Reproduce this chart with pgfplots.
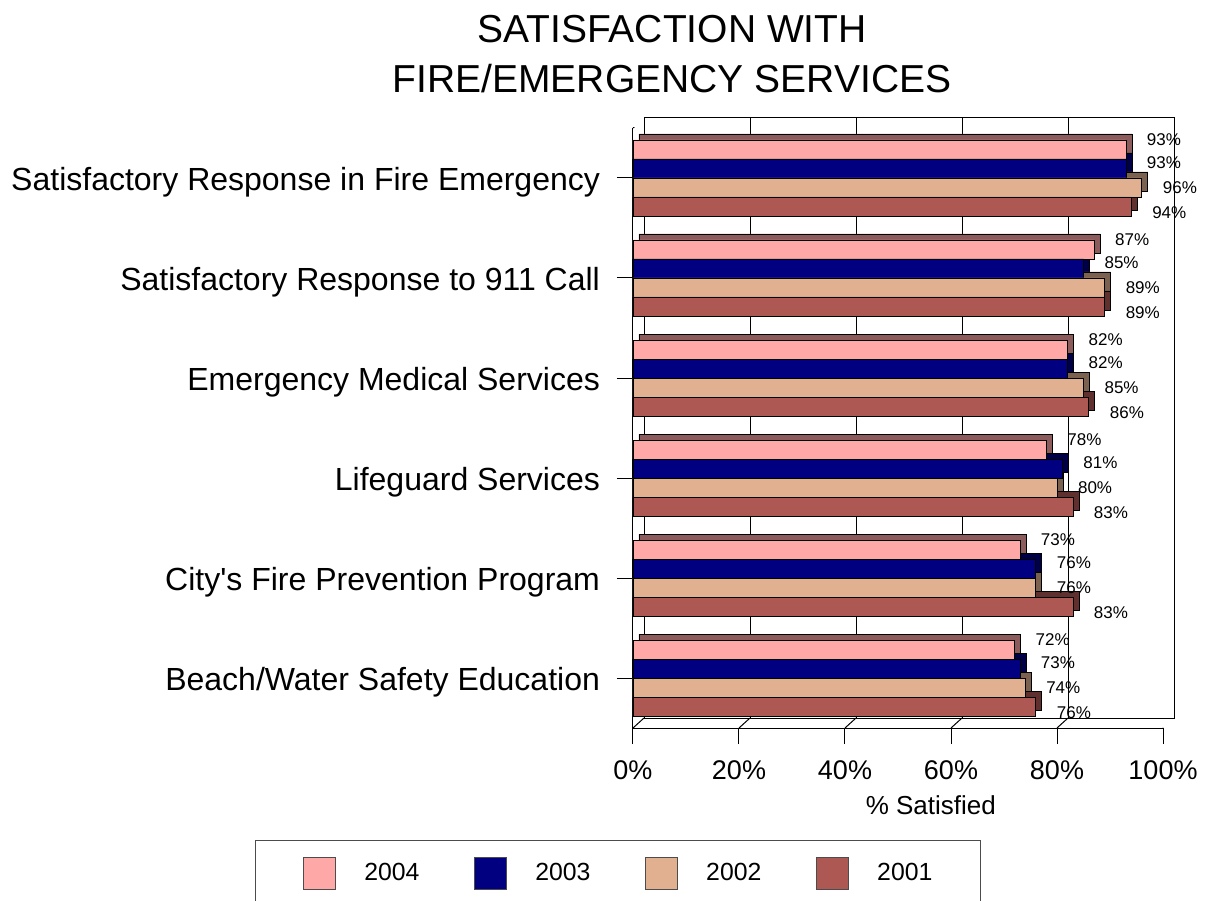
\documentclass[border=0pt]{standalone}
\usepackage{pgfplots}
\pgfplotsset{compat=1.18}
\usepackage{pgfplotstable}
\usepackage{fontspec}
\setmainfont{Liberation Sans}
\definecolor{c2004}{RGB}{255,168,168}
\definecolor{c2003}{RGB}{0,0,128}
\definecolor{c2002}{RGB}{224,176,144}
\definecolor{c2001}{RGB}{173,88,82}

\pgfplotstableread{
y v2004 v2003 v2002 v2001
5 93 93 96 94
4 87 85 89 89
3 82 82 85 86
2 78 81 80 83
1 73 76 76 83
0 72 73 74 76
}\data

\pgfplotsset{
  lbl/.style={point meta=x,
    nodes near coords={\pgfmathprintnumber{\pgfplotspointmeta}\%},
    nodes near coords style={font=\fontsize{8.5}{10}\selectfont, text=black, anchor=west, xshift=7pt, yshift=#1}},
  shadow/.style={fill=#1!55!black, draw=black, line width=0.4pt, xshift=3pt, yshift=3pt, forget plot},
}

\begin{document}
\begin{tikzpicture}
% back wall
\begin{axis}[at={(5.5pt,5pt)}, anchor=south west, scale only axis,
  width=265pt, height=300pt, xmin=0, xmax=100, ymin=-0.5, ymax=5.5,
  xtick={0,20,...,100}, xticklabels={}, ytick=\empty,
  major tick length=0pt, xmajorgrids,
  grid style={black, line width=0.5pt},
  axis line style={black, line width=0.5pt}]
\end{axis}
% front
\begin{axis}[at={(0,0)}, anchor=south west, scale only axis,
  width=265pt, height=300pt, xmin=0, xmax=100, ymin=-0.5, ymax=5.5,
  axis x line*=bottom, axis y line*=left,
  axis line style={black, line width=0.5pt},
  xbar, bar width=0.19,
  xtick={0,20,...,100},
  xticklabel={\pgfmathprintnumber{\tick}\%},
  /pgf/number format/assume math mode=true,
  x tick label style={font=\fontsize{13.5}{16}\selectfont, yshift=-5pt},
  ytick={0,...,5},
  yticklabels={Beach/Water Safety Education, City\textquotesingle s Fire Prevention Program, Lifeguard Services, Emergency Medical Services, Satisfactory Response to 911 Call, Satisfactory Response in Fire Emergency},
  y tick label style={font=\fontsize{16}{19}\selectfont, xshift=-5pt, yshift=-2pt},
  tick align=outside, major tick length=8pt,
  tick style={black, line width=0.5pt},
  xlabel={\% Satisfied},
  xlabel style={font=\fontsize{13}{15}\selectfont, at={(axis description cs:0.562,0)}, anchor=center, yshift=-38.5pt},
  title={SATISFACTION WITH\\FIRE/EMERGENCY SERVICES},
  title style={font=\fontsize{19.5}{25}\selectfont, align=center, at={(axis description cs:0.0736,1)}, anchor=center, yshift=31pt},
  legend columns=4,
  legend image code/.code={\draw[#1, draw=black!70] (0pt,-8pt) rectangle (16pt,8pt);},
  legend style={at={(axis description cs:-0.7132,-0.1867)}, anchor=north west,
    draw=black!70, line width=0.5pt, inner xsep=24pt, inner ysep=8pt,
    font=\fontsize{12.4}{14}\selectfont,
    nodes={inner sep=0pt},
    /tikz/every odd column/.append style={column sep=14pt},
    /tikz/every even column/.append style={column sep=27.5pt}},
]
% depth faces
\addplot[shadow=c2004, bar shift=0.285] table[x=v2004,y=y]{\data};
\addplot[shadow=c2003, bar shift=0.095] table[x=v2003,y=y]{\data};
\addplot[shadow=c2002, bar shift=-0.095] table[x=v2002,y=y]{\data};
\addplot[shadow=c2001, bar shift=-0.285] table[x=v2001,y=y]{\data};
% front faces
\addplot[fill=c2004, draw=black, line width=0.4pt, bar shift=0.285, lbl=5pt] table[x=v2004,y=y]{\data};
\addplot[fill=c2003, draw=black, line width=0.4pt, bar shift=0.095, lbl=3pt] table[x=v2003,y=y]{\data};
\addplot[fill=c2002, draw=black, line width=0.4pt, bar shift=-0.095, lbl=0pt] table[x=v2002,y=y]{\data};
\addplot[fill=c2001, draw=black, line width=0.4pt, bar shift=-0.285, lbl=-3pt] table[x=v2001,y=y]{\data};
\legend{2004,2003,2002,2001}
% floor and corner diagonals
\draw[black, line width=0.5pt] (axis cs:0,-0.5) -- ++(5.5pt,5pt);
\draw[black, line width=0.5pt] (axis cs:20,-0.5) -- ++(5.5pt,5pt);
\draw[black, line width=0.5pt] (axis cs:40,-0.5) -- ++(5.5pt,5pt);
\draw[black, line width=0.5pt] (axis cs:60,-0.5) -- ++(5.5pt,5pt);
\draw[black, line width=0.5pt] (axis cs:80,-0.5) -- ++(5.5pt,5pt);
\draw[black, line width=0.5pt] (axis cs:100,-0.5) -- ++(5.5pt,5pt);
\draw[black, line width=0.5pt] (axis cs:0,5.5) -- ++(5.5pt,5pt);
\end{axis}
\pgfresetboundingbox
\useasboundingbox (-316.5pt,-86pt) rectangle (287.5pt,364pt);
\end{tikzpicture}
\end{document}
